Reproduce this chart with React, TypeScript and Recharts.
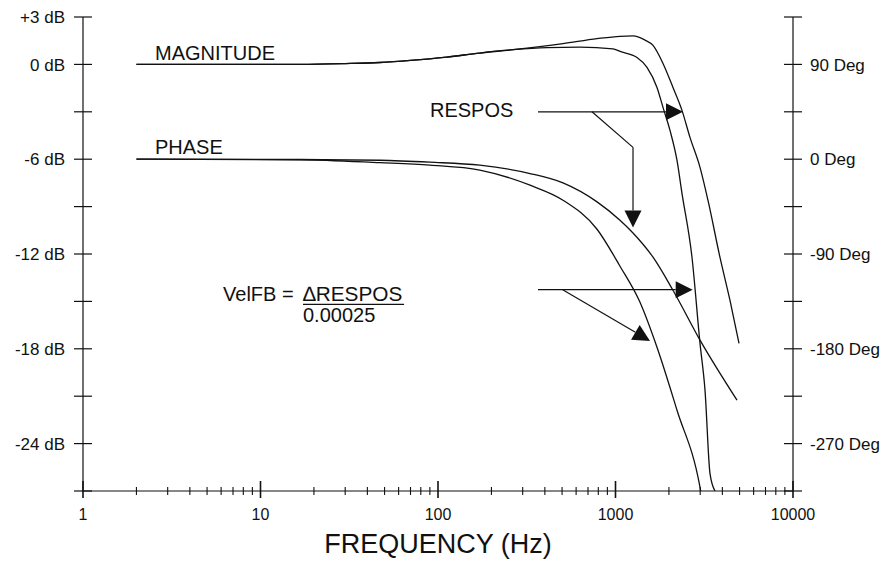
import React from 'react';
import { LineChart, Line, XAxis, YAxis, ReferenceLine, ReferenceDot } from 'recharts';

const FONT = '"Liberation Sans", Arial, Helvetica, sans-serif';
const INK = '#111';

// ---- axis ticks ----
const freqTicks = [1, 2, 3, 4, 5, 6, 7, 8, 9, 10, 20, 30, 40, 50, 60, 70, 80, 90, 100, 200, 300, 400, 500, 600, 700, 800, 900, 1000, 2000, 3000, 4000, 5000, 6000, 7000, 8000, 9000, 10000];
const freqLabels = ['1', '10', '100', '1000', '10000'];
const dbTicks = [3, 0, -3, -6, -9, -12, -15, -18, -21, -24, -27];
const dbLabels = ['+3 dB', '0 dB', '', '-6 dB', '', '-12 dB', '', '-18 dB', '', '-24 dB', ''];
const degTicks = [135, 90, 45, 0, -45, -90, -135, -180, -225, -270, -315];
const degLabels = ['', '90 Deg', '', '0 Deg', '', '-90 Deg', '', '-180 Deg', '', '-270 Deg', ''];

// ---- series: RESPOS magnitude (dB) ----
const resposMagFreq = [2, 16.7, 30, 47, 70, 112, 172, 265, 506, 787, 1060, 1255, 1460, 1627, 1852, 2108, 2369, 2628, 2993, 3320, 3879, 4416, 4964];
const resposMagDb = [0, 0.0, 0.05, 0.12, 0.25, 0.46, 0.72, 0.93, 1.31, 1.63, 1.78, 1.8, 1.55, 1.2, 0.06, -1.46, -2.91, -4.62, -6.52, -8.61, -12.22, -14.94, -17.66];

// ---- series: VelFB magnitude (dB) ----
const velMagFreq = [2, 16.7, 30, 47, 70, 112, 172, 265, 411, 631, 968, 1060, 1322, 1505, 1713, 1852, 2028, 2221, 2369, 2698, 2993, 3194, 3407, 3636];
const velMagDb = [0, 0.0, 0.05, 0.12, 0.25, 0.46, 0.72, 0.93, 1.06, 1.09, 0.98, 0.82, 0.44, -0.19, -1.46, -2.72, -4.18, -6.08, -8.16, -12.22, -17.66, -20.63, -25.9, -27];

// ---- series: RESPOS phase (deg) ----
const resposPhFreq = [2, 16.7, 47, 90, 172, 330, 506, 787, 1060, 1255, 1627, 2108, 2993, 4837];
const resposPhDeg = [0, -0.3, -1, -2.85, -5.7, -13.6, -22.5, -40.5, -57.9, -70, -93, -124.4, -171.8, -228.8];

// ---- series: VelFB phase (deg) ----
const velPhFreq = [2, 16.7, 47, 90, 172, 330, 506, 787, 1060, 1374, 1713, 2221, 2993, 3020];
const velPhDeg = [0, -0.5, -3.3, -5.7, -10.4, -24.7, -38.9, -66.5, -101.6, -135.8, -178.5, -238.3, -311.4, -315];

const zip = (fs: number[], vs: number[]) => fs.map((f, i) => ({ f, v: vs[i] }));
const resposMag = zip(resposMagFreq, resposMagDb);
const velMag = zip(velMagFreq, velMagDb);
const resposPh = zip(resposPhFreq, resposPhDeg);
const velPh = zip(velPhFreq, velPhDeg);

// ---- annotations (data coordinates: Hz, dB) ----
const respArrowMain = [{ x: 366, y: -3 }, { x: 2401, y: -3 }];
const respArrowBranch = [{ x: 737, y: -3 }, { x: 1255, y: -5.25 }];
const respArrowDrop = [{ x: 1255, y: -5.25 }, { x: 1255, y: -10.32 }];
const velArrowMain = [{ x: 366, y: -14.26 }, { x: 2722, y: -14.26 }];
const velArrowBranch = [{ x: 504, y: -14.26 }, { x: 1565, y: -17.5 }];
const fractionBar = [{ x: 17.35, y: -15.19 }, { x: 64.4, y: -15.19 }];

const arrowShape = (head: boolean) => (p: any) => {
  const { x1, y1, x2, y2 } = p;
  const dx = x2 - x1;
  const dy = y2 - y1;
  const len = Math.hypot(dx, dy) || 1;
  const ux = dx / len;
  const uy = dy / len;
  const L = 17;
  const W = 8.5;
  const bx = x2 - ux * L;
  const by = y2 - uy * L;
  return (
    <g>
      <line x1={x1} y1={y1} x2={head ? bx : x2} y2={head ? by : y2} stroke={INK} strokeWidth={1.2} />
      {head && (
        <polygon
          points={`${x2},${y2} ${bx - uy * W},${by + ux * W} ${bx + uy * W},${by - ux * W}`}
          fill={INK}
        />
      )}
    </g>
  );
};

const textShape = (content: React.ReactNode, size: number) => (p: any) => (
  <text x={p.cx} y={p.cy} fontSize={size} fill={INK} fontFamily={FONT} textAnchor="start">
    {content}
  </text>
);

const LeftTick = (props: any) => {
  const { x, y, payload } = props;
  const label = dbLabels[dbTicks.indexOf(payload.value)];
  return (
    <g>
      <line x1={x - 9} x2={x + 9} y1={y} y2={y} stroke={INK} strokeWidth={1.2} />
      {label ? (
        <text x={x - 18} y={y} dy="0.36em" textAnchor="end" fontSize={17} fill={INK} fontFamily={FONT}>
          {label}
        </text>
      ) : null}
    </g>
  );
};

const RightTick = (props: any) => {
  const { x, y, payload } = props;
  const label = degLabels[degTicks.indexOf(payload.value)];
  return (
    <g>
      <line x1={x - 9} x2={x + 9} y1={y} y2={y} stroke={INK} strokeWidth={1.2} />
      {label ? (
        <text x={x + 17} y={y} dy="0.36em" textAnchor="start" fontSize={17} fill={INK} fontFamily={FONT}>
          {label}
        </text>
      ) : null}
    </g>
  );
};

const FreqTick = (props: any) => {
  const { x, y, payload } = props;
  const v = payload.value;
  const idx = [1, 10, 100, 1000, 10000].indexOf(v);
  const major = idx >= 0;
  return (
    <g>
      <line
        x1={x}
        x2={x}
        y1={major ? y - 10 : y - 4}
        y2={major ? y + 7 : y + 4}
        stroke={INK}
        strokeWidth={major ? 1.6 : 1.1}
      />
      {major ? (
        <text x={x} y={y + 29} textAnchor="middle" fontSize={16} fill={INK} fontFamily={FONT}>
          {freqLabels[idx]}
        </text>
      ) : null}
    </g>
  );
};

export default function App() {
  return (
    <div style={{ padding: '8px 0 0 8px', width: 874, height: 557, background: '#fff', overflow: 'hidden' }}>
      <style>{'html,body{margin:0;padding:0;overflow:hidden;background:#fff}'}</style>
      <LineChart
        width={874}
        height={557}
        margin={{ top: 9, right: 0, bottom: 8, left: 0 }}
        style={{ fontFamily: FONT }}
      >
        <XAxis
          dataKey="f"
          type="number"
          scale="log"
          domain={[1, 10000]}
          allowDataOverflow
          ticks={freqTicks}
          interval={0}
          tick={<FreqTick />}
          tickLine={false}
          tickSize={0}
          tickMargin={0}
          height={66}
          axisLine={{ stroke: INK, strokeWidth: 1.2 }}
          label={{ value: 'FREQUENCY (Hz)', position: 'insideBottom', offset: 4, fill: INK, fontSize: 27, fontFamily: FONT }}
        />
        <YAxis
          yAxisId="db"
          orientation="left"
          type="number"
          domain={[-27, 3]}
          allowDataOverflow
          ticks={dbTicks}
          interval={0}
          tick={<LeftTick />}
          tickLine={false}
          tickSize={0}
          tickMargin={0}
          width={75}
          axisLine={{ stroke: INK, strokeWidth: 1.2 }}
        />
        <YAxis
          yAxisId="deg"
          orientation="right"
          type="number"
          domain={[-315, 135]}
          allowDataOverflow
          ticks={degTicks}
          interval={0}
          tick={<RightTick />}
          tickLine={false}
          tickSize={0}
          tickMargin={0}
          width={89}
          axisLine={{ stroke: INK, strokeWidth: 1.2 }}
        />

        <Line data={resposMag} dataKey="v" yAxisId="db" type="monotone" stroke={INK} strokeWidth={1.3} dot={false} activeDot={false} isAnimationActive={false} />
        <Line data={velMag} dataKey="v" yAxisId="db" type="monotone" stroke={INK} strokeWidth={1.3} dot={false} activeDot={false} isAnimationActive={false} />
        <Line data={resposPh} dataKey="v" yAxisId="deg" type="monotone" stroke={INK} strokeWidth={1.3} dot={false} activeDot={false} isAnimationActive={false} />
        <Line data={velPh} dataKey="v" yAxisId="deg" type="monotone" stroke={INK} strokeWidth={1.3} dot={false} activeDot={false} isAnimationActive={false} />

        <ReferenceLine yAxisId="db" segment={respArrowMain} shape={arrowShape(true)} />
        <ReferenceLine yAxisId="db" segment={respArrowBranch} shape={arrowShape(false)} />
        <ReferenceLine yAxisId="db" segment={respArrowDrop} shape={arrowShape(true)} />
        <ReferenceLine yAxisId="db" segment={velArrowMain} shape={arrowShape(true)} />
        <ReferenceLine yAxisId="db" segment={velArrowBranch} shape={arrowShape(true)} />
        <ReferenceLine yAxisId="db" segment={fractionBar} shape={arrowShape(false)} />

        <ReferenceDot yAxisId="db" x={2.544} y={0.25} shape={textShape('MAGNITUDE', 20)} />
        <ReferenceDot yAxisId="db" x={2.544} y={-5.7} shape={textShape('PHASE', 20)} />
        <ReferenceDot yAxisId="db" x={90.1} y={-3.35} shape={textShape('RESPOS', 20)} />
        <ReferenceDot yAxisId="db" x={6.15} y={-14.98} shape={textShape('VelFB =', 20)} />
        <ReferenceDot yAxisId="db" x={17.35} y={-14.98} shape={textShape('\u2206RESPOS', 20.8)} />
        <ReferenceDot yAxisId="db" x={17.35} y={-16.31} shape={textShape('0.00025', 20)} />
      </LineChart>
    </div>
  );
}
